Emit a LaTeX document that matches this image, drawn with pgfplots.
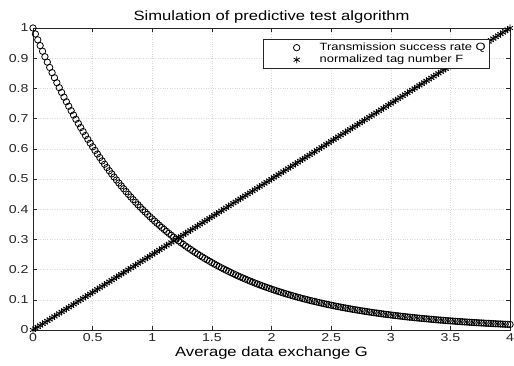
\documentclass[border=0pt]{standalone}
\usepackage{fontspec}
\setmainfont{Liberation Sans}[FakeStretch=1.23]
\usepackage{pgfplots}
\usepackage{pgfplotstable}
\usetikzlibrary{calc}
\pgfplotsset{compat=1.18}
\pgfplotstableread{
G Q F
0.00 1.00000 0.000
0.02 0.98020 0.005
0.04 0.96079 0.010
0.06 0.94176 0.015
0.08 0.92312 0.020
0.10 0.90484 0.025
0.12 0.88692 0.030
0.14 0.86936 0.035
0.16 0.85214 0.040
0.18 0.83527 0.045
0.20 0.81873 0.050
0.22 0.80252 0.055
0.24 0.78663 0.060
0.26 0.77105 0.065
0.28 0.75578 0.070
0.30 0.74082 0.075
0.32 0.72615 0.080
0.34 0.71177 0.085
0.36 0.69768 0.090
0.38 0.68386 0.095
0.40 0.67032 0.100
0.42 0.65705 0.105
0.44 0.64404 0.110
0.46 0.63128 0.115
0.48 0.61878 0.120
0.50 0.60653 0.125
0.52 0.59452 0.130
0.54 0.58275 0.135
0.56 0.57121 0.140
0.58 0.55990 0.145
0.60 0.54881 0.150
0.62 0.53794 0.155
0.64 0.52729 0.160
0.66 0.51685 0.165
0.68 0.50662 0.170
0.70 0.49659 0.175
0.72 0.48675 0.180
0.74 0.47711 0.185
0.76 0.46767 0.190
0.78 0.45841 0.195
0.80 0.44933 0.200
0.82 0.44043 0.205
0.84 0.43171 0.210
0.86 0.42316 0.215
0.88 0.41478 0.220
0.90 0.40657 0.225
0.92 0.39852 0.230
0.94 0.39063 0.235
0.96 0.38289 0.240
0.98 0.37531 0.245
1.00 0.36788 0.250
1.02 0.36059 0.255
1.04 0.35345 0.260
1.06 0.34646 0.265
1.08 0.33960 0.270
1.10 0.33287 0.275
1.12 0.32628 0.280
1.14 0.31982 0.285
1.16 0.31349 0.290
1.18 0.30728 0.295
1.20 0.30119 0.300
1.22 0.29523 0.305
1.24 0.28938 0.310
1.26 0.28365 0.315
1.28 0.27804 0.320
1.30 0.27253 0.325
1.32 0.26714 0.330
1.34 0.26185 0.335
1.36 0.25666 0.340
1.38 0.25158 0.345
1.40 0.24660 0.350
1.42 0.24171 0.355
1.44 0.23693 0.360
1.46 0.23224 0.365
1.48 0.22764 0.370
1.50 0.22313 0.375
1.52 0.21871 0.380
1.54 0.21438 0.385
1.56 0.21014 0.390
1.58 0.20598 0.395
1.60 0.20190 0.400
1.62 0.19790 0.405
1.64 0.19398 0.410
1.66 0.19014 0.415
1.68 0.18637 0.420
1.70 0.18268 0.425
1.72 0.17907 0.430
1.74 0.17552 0.435
1.76 0.17204 0.440
1.78 0.16864 0.445
1.80 0.16530 0.450
1.82 0.16203 0.455
1.84 0.15882 0.460
1.86 0.15567 0.465
1.88 0.15259 0.470
1.90 0.14957 0.475
1.92 0.14661 0.480
1.94 0.14370 0.485
1.96 0.14086 0.490
1.98 0.13807 0.495
2.00 0.13534 0.500
2.02 0.13266 0.505
2.04 0.13003 0.510
2.06 0.12745 0.515
2.08 0.12493 0.520
2.10 0.12246 0.525
2.12 0.12003 0.530
2.14 0.11765 0.535
2.16 0.11533 0.540
2.18 0.11304 0.545
2.20 0.11080 0.550
2.22 0.10861 0.555
2.24 0.10646 0.560
2.26 0.10435 0.565
2.28 0.10228 0.570
2.30 0.10026 0.575
2.32 0.09827 0.580
2.34 0.09633 0.585
2.36 0.09442 0.590
2.38 0.09255 0.595
2.40 0.09072 0.600
2.42 0.08892 0.605
2.44 0.08716 0.610
2.46 0.08543 0.615
2.48 0.08374 0.620
2.50 0.08208 0.625
2.52 0.08046 0.630
2.54 0.07887 0.635
2.56 0.07730 0.640
2.58 0.07577 0.645
2.60 0.07427 0.650
2.62 0.07280 0.655
2.64 0.07136 0.660
2.66 0.06995 0.665
2.68 0.06856 0.670
2.70 0.06721 0.675
2.72 0.06587 0.680
2.74 0.06457 0.685
2.76 0.06329 0.690
2.78 0.06204 0.695
2.80 0.06081 0.700
2.82 0.05961 0.705
2.84 0.05843 0.710
2.86 0.05727 0.715
2.88 0.05613 0.720
2.90 0.05502 0.725
2.92 0.05393 0.730
2.94 0.05287 0.735
2.96 0.05182 0.740
2.98 0.05079 0.745
3.00 0.04979 0.750
3.02 0.04880 0.755
3.04 0.04783 0.760
3.06 0.04689 0.765
3.08 0.04596 0.770
3.10 0.04505 0.775
3.12 0.04416 0.780
3.14 0.04328 0.785
3.16 0.04243 0.790
3.18 0.04159 0.795
3.20 0.04076 0.800
3.22 0.03996 0.805
3.24 0.03916 0.810
3.26 0.03839 0.815
3.28 0.03763 0.820
3.30 0.03688 0.825
3.32 0.03615 0.830
3.34 0.03544 0.835
3.36 0.03474 0.840
3.38 0.03405 0.845
3.40 0.03337 0.850
3.42 0.03271 0.855
3.44 0.03207 0.860
3.46 0.03143 0.865
3.48 0.03081 0.870
3.50 0.03020 0.875
3.52 0.02960 0.880
3.54 0.02901 0.885
3.56 0.02844 0.890
3.58 0.02788 0.895
3.60 0.02732 0.900
3.62 0.02678 0.905
3.64 0.02625 0.910
3.66 0.02573 0.915
3.68 0.02522 0.920
3.70 0.02472 0.925
3.72 0.02423 0.930
3.74 0.02375 0.935
3.76 0.02328 0.940
3.78 0.02282 0.945
3.80 0.02237 0.950
3.82 0.02193 0.955
3.84 0.02149 0.960
3.86 0.02107 0.965
3.88 0.02065 0.970
3.90 0.02024 0.975
3.92 0.01984 0.980
3.94 0.01945 0.985
3.96 0.01906 0.990
3.98 0.01869 0.995
4.00 0.01832 1.000
}\datatable
\definecolor{axgray}{gray}{0.15}
\begin{document}
\begin{tikzpicture}
\begin{axis}[
  name=ax,
  scale only axis,
  width=477pt, height=302pt,
  xmin=0, xmax=4, ymin=0, ymax=1,
  xtick={0,0.5,...,4},
  ytick={0,0.1,...,1},
  yticklabels={0,0.1,0.2,0.3,0.4,0.5,0.6,0.7,0.8,0.9,1},
  xticklabels={0,0.5,1,1.5,2,2.5,3,3.5,4},
  tick align=inside,
  major tick length=4pt,
  axis line style={axgray, line width=0.6pt},
  every tick/.style={axgray, line width=0.5pt},
  tick label style={font=\fontsize{11.5}{13}\selectfont, color=axgray},
  yticklabel style={xshift=-1pt},
  grid=major,
  grid style={gray!30, dotted, line width=0.4pt},
  title={Simulation of predictive test algorithm},
  title style={font=\fontsize{13.5}{15}\selectfont, yshift=-5pt},
  xlabel={Average data exchange G},
  xlabel style={font=\fontsize{13.5}{15}\selectfont, yshift=1.5pt},
  legend style={at={(0.958,0.964)}, anchor=north east, draw=axgray, line width=0.5pt,
    font=\fontsize{10.5}{12}\selectfont, row sep=-1pt, inner xsep=2pt, inner ysep=2pt},
  legend cell align=left,
  legend image code/.code={\path[draw=none] (0pt,0pt) -- (52pt,0pt); \draw[#1] plot coordinates {(31pt,0pt)};},
]
\addplot[only marks, mark=o, mark size=3.2pt, black, line width=0.8pt] table[x=G, y=Q] {\datatable};
\addlegendentry{Transmission success rate Q}
\addplot[only marks, mark=asterisk, mark size=3.5pt, black, line width=0.8pt] table[x=G, y=F] {\datatable};
\addlegendentry{normalized tag number F}
\end{axis}
\pgfresetboundingbox
\path ($(ax.south west)+(-33pt,-36pt)$) rectangle ($(ax.north east)+(4pt,28pt)$);
\end{tikzpicture}
\end{document}
